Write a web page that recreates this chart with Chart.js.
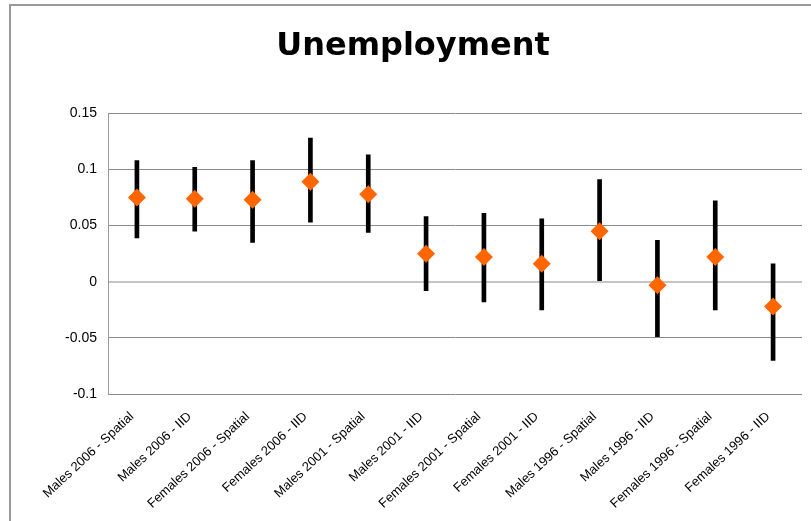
<!DOCTYPE html>
<html>
<head>
<meta charset="utf-8">
<script src="https://cdn.jsdelivr.net/npm/chart.js@4/dist/chart.umd.min.js"></script>
<style>
    body { margin: 0; background: #fff; }
    #frame {
        position: absolute;
        left: 9px;
        top: 4px;
        width: 900px;
        height: 600px;
        border-left: 2px solid #999;
        border-top: 2px solid #999;
    }
    #chart { position: absolute; left: 0; top: 0; }
</style>
</head>
<body>
<div id="frame"></div>
<canvas id="chart" width="811" height="521"></canvas>
<script>
// Categories along the x axis
const categories = [
    'Males 2006 - Spatial', 'Males 2006 - IID',
    'Females 2006 - Spatial', 'Females 2006 - IID',
    'Males 2001 - Spatial', 'Males 2001 - IID',
    'Females 2001 - Spatial', 'Females 2001 - IID',
    'Males 1996 - Spatial', 'Males 1996 - IID',
    'Females 1996 - Spatial', 'Females 1996 - IID'
];

// Point estimates (orange diamonds)
const estimates = [0.075, 0.074, 0.073, 0.089, 0.078, 0.025, 0.022, 0.016, 0.045, -0.003, 0.022, -0.022];

// Interval bounds (black bars)
const lower = [0.039, 0.045, 0.035, 0.053, 0.044, -0.008, -0.018, -0.025, 0.000, -0.049, -0.025, -0.070];
const upper = [0.108, 0.102, 0.108, 0.128, 0.113, 0.058, 0.061, 0.056, 0.091, 0.037, 0.072, 0.016];

// Y axis range and step
const yMin = -0.1;
const yMax = 0.15;
const yStep = 0.05;

const intervals = lower.map((lo, i) => [lo, upper[i]]);

const ctx = document.getElementById('chart').getContext('2d');
new Chart(ctx, {
    type: 'bar',
    data: {
        labels: categories,
        datasets: [
            {
                type: 'line',
                label: 'Estimate',
                data: estimates,
                showLine: false,
                pointStyle: 'rectRot',
                pointRadius: 9,
                pointBorderWidth: 0,
                pointBackgroundColor: '#FF6600',
                pointBorderColor: '#FF6600',
                order: 0
            },
            {
                label: 'Interval',
                data: intervals,
                backgroundColor: '#000000',
                borderWidth: 0,
                barThickness: 4,
                order: 1
            }
        ]
    },
    options: {
        responsive: false,
        animation: false,
        layout: {
            padding: { left: 22, right: 7, top: 0, bottom: 0 }
        },
        scales: {
            x: {
                grid: { display: false, drawTicks: false },
                border: { display: false },
                ticks: {
                    color: '#000',
                    minRotation: 43,
                    maxRotation: 43,
                    autoSkip: false,
                    padding: 15,
                    labelOffset: -5,
                    font: { family: 'Liberation Sans', size: 13 }
                },
                afterFit: (scale) => { scale.height = 127; }
            },
            y: {
                min: yMin,
                max: yMax,
                grid: {
                    drawTicks: false,
                    color: (c) => c.tick && c.tick.value === 0 ? '#c4c4c4' : '#8a8a8a',
                    lineWidth: (c) => c.tick && c.tick.value === 0 ? 2 : 1
                },
                border: { display: true, color: '#9a9a9a', width: 1 },
                ticks: {
                    stepSize: yStep,
                    color: '#000',
                    padding: 11,
                    font: { family: 'Liberation Sans', size: 14 },
                    callback: (v) => String(Number(v.toFixed(2)))
                },
                afterFit: (scale) => { scale.width = 86; }
            }
        },
        plugins: {
            legend: { display: false },
            tooltip: { enabled: false },
            title: {
                display: true,
                text: 'Unemployment',
                color: '#000',
                font: { family: 'DejaVu Sans', size: 32, weight: 'bold' },
                padding: { top: 27, bottom: 48 }
            }
        }
    }
});
</script>
</body>
</html>
